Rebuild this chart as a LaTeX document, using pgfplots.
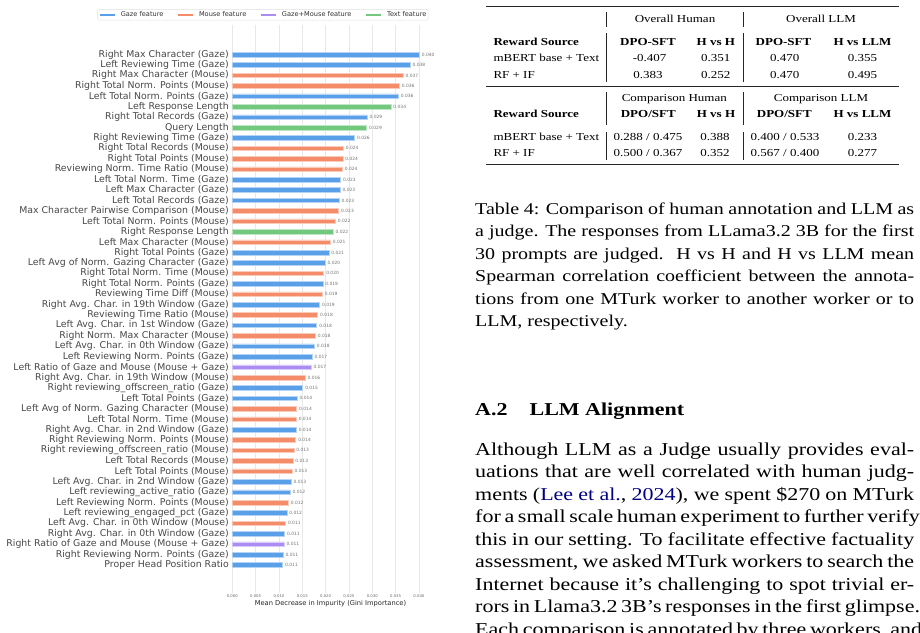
\documentclass[border=0pt]{standalone}
\usepackage{fontspec}
\setmainfont{Liberation Serif}
\newfontfamily\djv{DejaVu Sans}
\usepackage{graphicx}
\usepackage{xcolor}
\usepackage{pgfplots}
\pgfplotsset{compat=1.18}
\definecolor{cgaze}{HTML}{5AA0E8}
\definecolor{cmouse}{HTML}{F48C69}
\definecolor{cgm}{HTML}{AA8CF2}
\definecolor{ctext}{HTML}{72C97E}
\definecolor{darkblue}{rgb}{0,0,0.5}
\newcommand\tb[1]{\scalebox{2}[1.65]{\fontsize{6.5}{7.8}\selectfont #1}}
\newcommand\tbb[1]{\tb{\bfseries #1}}
\newcommand\jl[1]{\makebox[219.5pt][s]{#1}}

\begin{document}
\begin{tikzpicture}[x=1pt,y=1pt]
\useasboundingbox (0,-632) rectangle (920,0);
\clip (0,-632) rectangle (920,0);
\begin{axis}[
  at={(232.3pt,-593.3pt)}, anchor=south west,
  scale only axis, width=196.4pt, height=568pt,
  xbar, bar width=4.6pt,
  xmin=0, xmax=0.0421, ymin=-2.72, ymax=51.81,
  axis line style={draw=none},
  major tick length=0pt,
  xmajorgrids, grid style={black!9, line width=0.5pt},
  xtick={0,0.005,0.01,0.015,0.02,0.025,0.03,0.035,0.04},
  scaled x ticks=false,
  xticklabel style={font=\djv\fontsize{3.8}{4}\selectfont, text=black!60,
    /pgf/number format/fixed, /pgf/number format/fixed zerofill,
    /pgf/number format/precision=3, /pgf/number format/assume math mode=true,
    inner sep=1pt},
  ytick={0,...,49},
  yticklabels={
    {Proper Head Position Ratio},
    {Right Reviewing Norm. Points (Gaze)},
    {Right Ratio of Gaze and Mouse (Mouse + Gaze)},
    {Right Avg. Char. in 0th Window (Gaze)},
    {Left Avg. Char. in 0th Window (Mouse)},
    {Left reviewing\_engaged\_pct (Gaze)},
    {Left Reviewing Norm. Points (Mouse)},
    {Left reviewing\_active\_ratio (Gaze)},
    {Left Avg. Char. in 2nd Window (Gaze)},
    {Left Total Points (Mouse)},
    {Left Total Records (Mouse)},
    {Right reviewing\_offscreen\_ratio (Mouse)},
    {Right Reviewing Norm. Points (Mouse)},
    {Right Avg. Char. in 2nd Window (Gaze)},
    {Left Total Norm. Time (Mouse)},
    {Left Avg of Norm. Gazing Character (Mouse)},
    {Left Total Points (Gaze)},
    {Right reviewing\_offscreen\_ratio (Gaze)},
    {Right Avg. Char. in 19th Window (Mouse)},
    {Left Ratio of Gaze and Mouse (Mouse + Gaze)},
    {Left Reviewing Norm. Points (Gaze)},
    {Left Avg. Char. in 0th Window (Gaze)},
    {Right Norm. Max Character (Mouse)},
    {Left Avg. Char. in 1st Window (Gaze)},
    {Reviewing Time Ratio (Mouse)},
    {Right Avg. Char. in 19th Window (Gaze)},
    {Reviewing Time Diff (Mouse)},
    {Right Total Norm. Points (Gaze)},
    {Right Total Norm. Time (Mouse)},
    {Left Avg of Norm. Gazing Character (Gaze)},
    {Right Total Points (Gaze)},
    {Left Max Character (Mouse)},
    {Right Response Length},
    {Left Total Norm. Points (Mouse)},
    {Max Character Pairwise Comparison (Mouse)},
    {Left Total Records (Gaze)},
    {Left Max Character (Gaze)},
    {Left Total Norm. Time (Gaze)},
    {Reviewing Norm. Time Ratio (Mouse)},
    {Right Total Points (Mouse)},
    {Right Total Records (Mouse)},
    {Right Reviewing Time (Gaze)},
    {Query Length},
    {Right Total Records (Gaze)},
    {Left Response Length},
    {Left Total Norm. Points (Gaze)},
    {Right Total Norm. Points (Mouse)},
    {Right Max Character (Mouse)},
    {Left Reviewing Time (Gaze)},
    {Right Max Character (Gaze)}},
  yticklabel style={font=\djv\fontsize{9.36}{10}\selectfont, text=black!72},
  xlabel={Mean Decrease in Impurity (Gini Importance)},
  xlabel style={font=\djv\fontsize{6.7}{7}\selectfont, text=black!85,
    at={(axis description cs:0.5,0)}, anchor=center, yshift=-10pt},
  point meta=x,
  nodes near coords={\pgfmathprintnumber[fixed,fixed zerofill,precision=3,assume math mode=true]{\pgfplotspointmeta}},
  nodes near coords align=horizontal,
  every node near coord/.append style={font=\djv\fontsize{4.4}{5}\selectfont,
    text=black!55, anchor=west, inner sep=0pt, xshift=2.3pt},
  legend columns=4,
  legend style={at={(1,1)}, anchor=south east, yshift=5pt,
    font=\djv\fontsize{6.6}{7}\selectfont, text=black!80,
    draw=black!12, rounded corners=1.5pt, inner xsep=1.5pt, inner ysep=1.5pt,
    nodes={inner sep=0.6pt},
    /tikz/every odd column/.append style={column sep=4pt},
    /tikz/every even column/.append style={column sep=13pt}},
]
\addplot[bar shift=0pt, fill=cgaze, draw=cgaze!45!white, line width=0.5pt,
  legend image code/.code={\draw[cgaze, line width=2.4pt] (0pt,0pt) -- (15pt,0pt);}]
  coordinates {
  (0.0401,49) (0.0381,48) (0.0356,45) (0.0289,43) (0.0262,41)
  (0.0232,37) (0.0231,36) (0.0229,35) (0.0207,30) (0.0199,29)
  (0.0194,27) (0.0187,25) (0.0181,23) (0.0176,21) (0.0171,20)
  (0.0151,17) (0.0139,16) (0.0137,13) (0.0126,8) (0.0124,7)
  (0.0117,5) (0.0112,3) (0.0109,1) (0.0108,0)};
\addlegendentry{Gaze feature}
\addplot[bar shift=0pt, fill=cmouse, draw=cmouse!45!white, line width=0.5pt,
  legend image code/.code={\draw[cmouse, line width=2.4pt] (0pt,0pt) -- (15pt,0pt);}]
  coordinates {
  (0.0366,47) (0.0358,46) (0.0238,40) (0.0237,39) (0.0236,38)
  (0.0228,34) (0.0221,33) (0.0210,31) (0.0196,28) (0.0193,26)
  (0.0183,24) (0.0178,22) (0.0156,18) (0.0138,15) (0.0137,14)
  (0.0136,12) (0.0132,11) (0.0130,10) (0.0128,9) (0.0120,6)
  (0.0114,4)};
\addlegendentry{Mouse feature}
\addplot[bar shift=0pt, fill=cgm, draw=cgm!45!white, line width=0.5pt,
  legend image code/.code={\draw[cgm, line width=2.4pt] (0pt,0pt) -- (15pt,0pt);}]
  coordinates {(0.0169,19) (0.0111,2)};
\addlegendentry{Gaze+Mouse feature}
\addplot[bar shift=0pt, fill=ctext, draw=ctext!45!white, line width=0.5pt,
  legend image code/.code={\draw[ctext, line width=2.4pt] (0pt,0pt) -- (15pt,0pt);}]
  coordinates {(0.0340,44) (0.0288,42) (0.0216,32)};
\addlegendentry{Text feature}
\end{axis}

% ---- table ----
\draw[line width=1.1pt, black!85] (486,-6.7) -- (899,-6.7);
\draw[line width=0.7pt, black!85] (486,-86) -- (899,-86);
\draw[line width=1.1pt, black!85] (486,-164.3) -- (899,-164.3);
\foreach \x in {606.7,743.3} {
  \foreach \a/\b in {11.7/27.3, 33.3/81.7, 91.7/125, 131.7/160} {
    \draw[line width=0.6pt, black!85] (\x,-\a) -- (\x,-\b);
  }
}
\begin{scope}[every node/.style={inner sep=0pt}]
\node[anchor=base] at (675,-22.5) {\tb{Overall Human}};
\node[anchor=base] at (821,-22.5) {\tb{Overall LLM}};
\node[anchor=base west] at (493.3,-45.8) {\tbb{Reward Source}};
\node[anchor=base] at (648,-45.8) {\tbb{DPO-SFT}};
\node[anchor=base] at (715.8,-45.8) {\tbb{H vs H}};
\node[anchor=base] at (783.5,-45.8) {\tbb{DPO-SFT}};
\node[anchor=base] at (862.5,-45.8) {\tbb{H vs LLM}};
\node[anchor=base west] at (493.3,-61.8) {\tb{mBERT base + Text}};
\node[anchor=base] at (649.7,-61.8) {\tb{-0.407}};
\node[anchor=base] at (715.8,-61.8) {\tb{0.351}};
\node[anchor=base] at (784.7,-61.8) {\tb{0.470}};
\node[anchor=base] at (862.5,-61.8) {\tb{0.355}};
\node[anchor=base west] at (493.3,-78.5) {\tb{RF + IF}};
\node[anchor=base] at (648,-78.5) {\tb{0.383}};
\node[anchor=base] at (715.8,-78.5) {\tb{0.252}};
\node[anchor=base] at (784.7,-78.5) {\tb{0.470}};
\node[anchor=base] at (862.5,-78.5) {\tb{0.495}};
\node[anchor=base] at (674.3,-101.8) {\tb{Comparison Human}};
\node[anchor=base] at (821,-101.8) {\tb{Comparison LLM}};
\node[anchor=base west] at (493.3,-117.8) {\tbb{Reward Source}};
\node[anchor=base] at (648.3,-117.8) {\tbb{DPO/SFT}};
\node[anchor=base] at (716,-117.8) {\tbb{H vs H}};
\node[anchor=base] at (784.3,-117.8) {\tbb{DPO/SFT}};
\node[anchor=base] at (862.5,-117.8) {\tbb{H vs LLM}};
\node[anchor=base west] at (493.3,-140.2) {\tb{mBERT base + Text}};
\node[anchor=base] at (648,-140.2) {\tb{0.288 / 0.475}};
\node[anchor=base] at (715,-140.2) {\tb{0.388}};
\node[anchor=base] at (785,-140.2) {\tb{0.400 / 0.533}};
\node[anchor=base] at (862.5,-140.2) {\tb{0.233}};
\node[anchor=base west] at (493.3,-156.2) {\tb{RF + IF}};
\node[anchor=base] at (648,-156.2) {\tb{0.500 / 0.367}};
\node[anchor=base] at (715,-156.2) {\tb{0.352}};
\node[anchor=base] at (785,-156.2) {\tb{0.567 / 0.400}};
\node[anchor=base] at (862.5,-156.2) {\tb{0.277}};

% ---- caption ----
\node[anchor=base west] at (475,-214.5) {\scalebox{2}[1.65]{\parbox[t]{219.5pt}{\fontsize{10}{13.6}\selectfont
\jl{Table 4: Comparison of human annotation and LLM as}\\
\jl{a judge. The responses from LLama3.2 3B for the first}\\
\jl{30 prompts are judged.\ \ H vs H and H vs LLM mean}\\
\jl{Spearman correlation coefficient between the annota-}\\
\jl{tions from one MTurk worker to another worker or to}\\
LLM, respectively.}}};

% ---- section ----
\node[anchor=base west] at (475,-415) {\scalebox{2}[1.65]{\fontsize{11}{13.6}\selectfont\bfseries A.2\quad LLM Alignment}};
\node[anchor=base west] at (475,-455.5) {\scalebox{2}[1.65]{\parbox[t]{219.5pt}{\fontsize{11}{13.6}\selectfont
\jl{Although LLM as a Judge usually provides eval-}\\
\jl{uations that are well correlated with human judg-}\\
\jl{ments (\textcolor{darkblue}{Lee et al.}, \textcolor{darkblue}{2024}), we spent \$270 on MTurk}\\
\jl{for a small scale human experiment to further verify}\\
\jl{this in our setting. To facilitate effective factuality}\\
\jl{assessment, we asked MTurk workers to search the}\\
\jl{Internet because it's challenging to spot trivial er-}\\
\jl{rors in Llama3.2 3B's responses in the first glimpse.}\\
\jl{Each comparison is annotated by three workers, and}}}};
\end{scope}
\end{tikzpicture}
\end{document}
